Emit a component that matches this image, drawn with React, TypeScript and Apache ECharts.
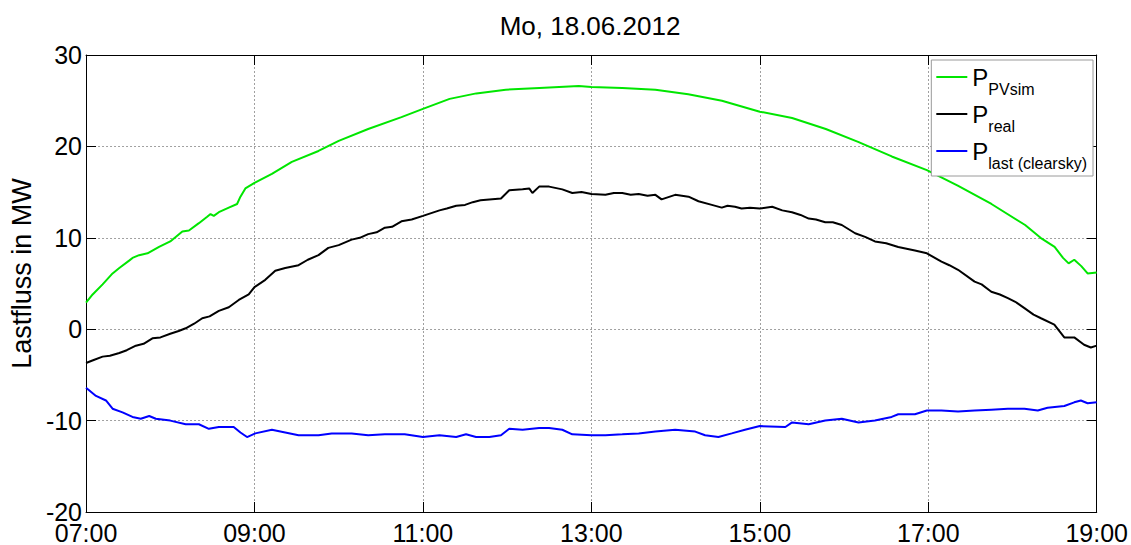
import React, { useEffect, useRef } from "react";
import * as echarts from "echarts";

// minutes after 07:00
const pvSimMin = [0, 4.7, 11.8, 18.9, 23.7, 30.7, 33.1, 37.8, 43.8, 52, 60, 68.6, 73.3, 80.4, 86.3, 88.7, 91, 94.6, 101.7, 107.6, 110, 113.5, 120, 132.4, 146.6, 165.6, 180, 201, 224.7, 240, 259, 278, 299, 323, 351, 360, 382, 405.6, 429, 453, 480, 503, 527, 550, 574, 599, 621, 645, 669, 680, 690, 696, 700, 704, 709, 713.5, 720];
const pvSimVal = [2.9, 3.8, 4.9, 6.1, 6.7, 7.5, 7.8, 8.1, 8.3, 9.0, 9.6, 10.7, 10.8, 11.6, 12.3, 12.6, 12.4, 12.8, 13.3, 13.7, 14.5, 15.4, 16.0, 17.0, 18.3, 19.5, 20.6, 21.9, 23.2, 24.1, 25.2, 25.8, 26.2, 26.4, 26.6, 26.5, 26.4, 26.2, 25.7, 25.0, 23.8, 23.1, 21.9, 20.5, 18.9, 17.4, 15.7, 13.7, 11.4, 10.0, 9.0, 7.8, 7.2, 7.6, 6.9, 6.1, 6.2];

const realMin = [0, 5, 11.8, 17, 23.7, 29, 35.5, 41, 47.3, 53, 60, 66, 71, 77, 82.8, 88, 94.6, 101.7, 108.8, 115.9, 120, 127.7, 134.8, 141.9, 151.4, 158, 165.6, 172.6, 180, 189.2, 195, 201, 207, 212.9, 218, 224.7, 232, 240, 251.8, 257, 263.7, 270, 275.5, 281, 287.3, 295.6, 301.5, 311, 315.7, 318, 322.8, 329.9, 339.3, 346.4, 353, 360, 370, 376, 382, 388, 393.7, 400, 405.6, 410, 419.7, 429.2, 436.3, 445.8, 452.9, 457, 462.3, 467, 473, 480, 488.8, 496, 502.9, 509, 514.8, 520, 526.6, 532, 538.4, 547.9, 555, 562, 570, 578.6, 590.5, 599, 609.4, 615, 621.2, 633, 638, 644.9, 651, 656.7, 662, 668.5, 675, 680.3, 689.8, 696.9, 704, 711, 715.8, 720];
const realVal = [-3.7, -3.4, -3.0, -2.9, -2.6, -2.3, -1.8, -1.6, -1.0, -0.9, -0.5, -0.2, 0.1, 0.6, 1.2, 1.4, 2.0, 2.4, 3.2, 3.8, 4.6, 5.4, 6.4, 6.7, 7.0, 7.6, 8.1, 8.9, 9.2, 9.8, 10.0, 10.4, 10.6, 11.1, 11.2, 11.8, 12.0, 12.4, 13.0, 13.2, 13.5, 13.6, 13.9, 14.1, 14.2, 14.3, 15.2, 15.3, 15.4, 14.9, 15.6, 15.6, 15.3, 14.9, 15.0, 14.8, 14.7, 14.9, 14.9, 14.7, 14.8, 14.6, 14.7, 14.2, 14.7, 14.5, 14.0, 13.6, 13.3, 13.5, 13.4, 13.2, 13.3, 13.2, 13.4, 13.0, 12.8, 12.5, 12.1, 12.0, 11.7, 11.7, 11.4, 10.5, 10.1, 9.6, 9.4, 9.0, 8.6, 8.3, 7.4, 7.0, 6.5, 5.2, 4.9, 4.1, 3.8, 3.4, 3.0, 2.3, 1.6, 1.2, 0.5, -0.9, -0.9, -1.7, -2.0, -1.8];

const lastMin = [0, 7.1, 14.2, 18.9, 26, 33.1, 39, 45, 49.7, 60, 71, 80.4, 87.5, 94.6, 105.2, 110, 114.7, 120.6, 132.4, 141.9, 151.4, 165.6, 175, 189.2, 201, 212.9, 227, 240, 251.8, 263.7, 270.7, 277.8, 287.3, 295.6, 301.5, 311, 322.8, 329.9, 339.3, 346.4, 360, 370, 382, 393.7, 405.6, 419.7, 434, 441, 450.5, 460, 469.4, 480, 498.2, 503, 514.8, 526.6, 538.4, 550.3, 562, 573.9, 578.6, 590.5, 599, 609.4, 621.2, 633, 644.9, 656.7, 668.5, 678, 685, 696.9, 704, 708.7, 713.5, 720];
const lastVal = [-6.4, -7.3, -7.8, -8.7, -9.1, -9.6, -9.8, -9.5, -9.8, -10.0, -10.4, -10.4, -10.9, -10.7, -10.7, -11.3, -11.8, -11.4, -11.0, -11.3, -11.6, -11.6, -11.4, -11.4, -11.6, -11.5, -11.5, -11.8, -11.6, -11.8, -11.5, -11.8, -11.8, -11.6, -10.9, -11.0, -10.8, -10.8, -11.0, -11.5, -11.6, -11.6, -11.5, -11.4, -11.2, -11.0, -11.2, -11.6, -11.8, -11.4, -11.0, -10.6, -10.7, -10.2, -10.4, -10.0, -9.8, -10.2, -10.0, -9.6, -9.3, -9.3, -8.9, -8.9, -9.0, -8.9, -8.8, -8.7, -8.7, -8.9, -8.6, -8.4, -8.0, -7.8, -8.1, -8.0];

const seriesNames = ["PVsim", "real", "last (clearsky)"];
const seriesColors = ["#00e600", "#000000", "#0000ff"];
const titleText = "Mo, 18.06.2012";
const yAxisTitle = "Lastfluss in MW";
const startHour = 7;

const FONT = "'Liberation Sans', Arial, Helvetica, sans-serif";

function zip(a: number[], b: number[]) {
  return a.map((m, i) => [m, b[i]]);
}

export default function App() {
  const ref = useRef<HTMLDivElement>(null);
  useEffect(() => {
    if (!ref.current) return;
    const chart = echarts.init(ref.current, undefined, { renderer: "svg" });
    const dataSets = [zip(pvSimMin, pvSimVal), zip(realMin, realVal), zip(lastMin, lastVal)];
    const fmt = (v: number) => `${String(startHour + v / 60).padStart(2, "0")}:00`;
    const gridLine = { show: true, lineStyle: { color: "#a0a0a0", type: [2, 2] as any, width: 1 } };
    const axLine = { show: true, onZero: false, lineStyle: { color: "#000", width: 1 } };
    const tick = { show: true, inside: true, length: 10, lineStyle: { color: "#000", width: 1 } };
    chart.setOption({
      animation: false,
      backgroundColor: "#fff",
      textStyle: { fontFamily: FONT },
      title: {
        text: titleText,
        left: 585,
        textAlign: "center",
        top: 8,
        textStyle: { fontFamily: FONT, fontSize: 26, fontWeight: "normal", color: "#000" },
      },
      grid: { left: 82, right: 34, top: 55, bottom: 31, containLabel: false },
      legend: {
        orient: "vertical",
        right: 38,
        top: 60,
        padding: [5, 6, 5, 5],
        itemGap: 5,
        itemWidth: 31,
        itemHeight: 2,
        icon: "rect",
        backgroundColor: "#fff",
        borderColor: "#9a9a9a",
        borderWidth: 1,
        borderRadius: 0,
        data: seriesNames,
        formatter: (name: string) => `{p|P}{s|${name}}`,
        textStyle: {
          fontFamily: FONT,
          color: "#000",
          rich: {
            p: { fontFamily: FONT, fontSize: 24, lineHeight: 24, verticalAlign: "top", color: "#000" },
            s: { fontFamily: FONT, fontSize: 16, lineHeight: 16, padding: [16, 0, 0, 0], verticalAlign: "top", color: "#000" },
          },
        },
      },
      xAxis: [
        {
          type: "value",
          min: 0,
          max: 720,
          interval: 120,
          position: "bottom",
          axisLine: axLine,
          axisTick: tick,
          splitLine: gridLine,
          axisLabel: { formatter: fmt, fontFamily: FONT, fontSize: 25, color: "#000", margin: 8 },
        },
        {
          type: "value",
          min: 0,
          max: 720,
          interval: 120,
          position: "top",
          axisLine: axLine,
          axisTick: tick,
          splitLine: { show: false },
          axisLabel: { show: false },
        },
      ],
      yAxis: [
        {
          type: "value",
          min: -20,
          max: 30,
          interval: 10,
          position: "left",
          name: yAxisTitle,
          nameLocation: "middle",
          nameGap: 45,
          nameTextStyle: { fontFamily: FONT, fontSize: 27, color: "#000", padding: [0, 0, 0, 20] },
          axisLine: axLine,
          axisTick: tick,
          splitLine: gridLine,
          axisLabel: { fontFamily: FONT, fontSize: 25, color: "#000", margin: 4 },
        },
        {
          type: "value",
          min: -20,
          max: 30,
          interval: 10,
          position: "right",
          axisLine: axLine,
          axisTick: tick,
          splitLine: { show: false },
          axisLabel: { show: false },
        },
      ],
      series: seriesNames.map((n, i) => ({
        name: n,
        type: "line",
        xAxisIndex: 0,
        yAxisIndex: 0,
        data: dataSets[i],
        showSymbol: false,
        symbol: "none",
        color: seriesColors[i],
        lineStyle: { color: seriesColors[i], width: 2 },
        silent: true,
        z: 3 - i,
      })),
    });
    return () => chart.dispose();
  }, []);
  return <div ref={ref} style={{ width: 1131, height: 545, position: "absolute", left: 0, top: 0 }} />;
}
